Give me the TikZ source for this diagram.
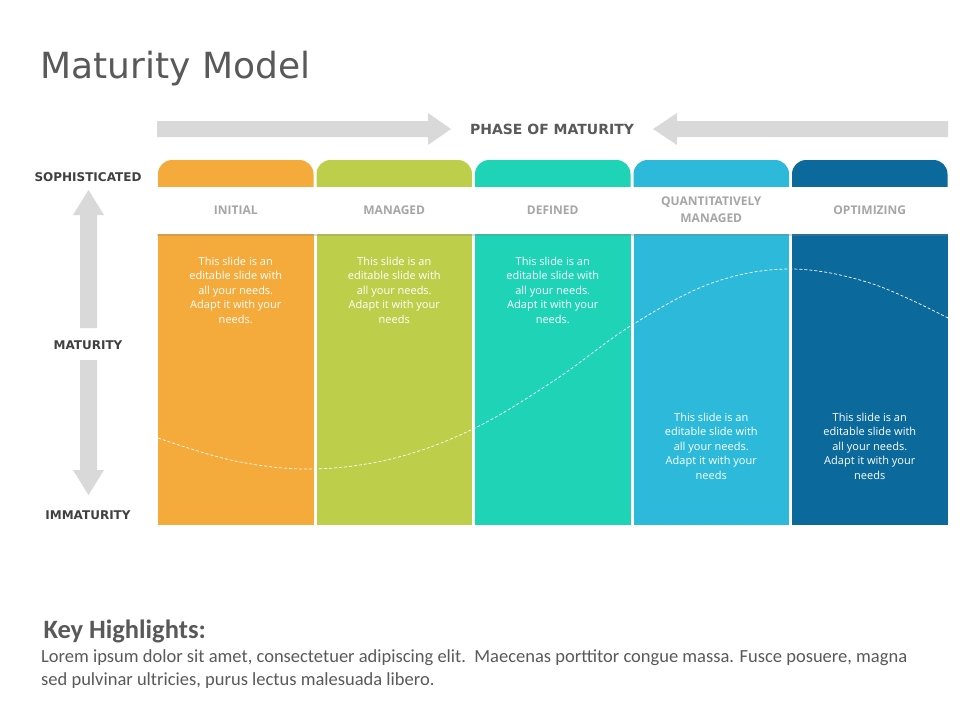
\documentclass[tikz,border=0pt]{standalone}
\usepackage{fontspec}
\setmainfont{DejaVu Sans}
\newfontfamily\opensans{Open Sans}
\newfontfamily\carlito{Carlito}
\usetikzlibrary{shadows}
\definecolor{txtgray}{HTML}{595959}
\definecolor{axgray}{HTML}{404040}
\definecolor{lblgray}{HTML}{A6A6A6}
\definecolor{arrgray}{HTML}{D9D9D9}
\definecolor{colA}{HTML}{F5AB3C}
\definecolor{colB}{HTML}{BDCF4A}
\definecolor{colC}{HTML}{1FD3B6}
\definecolor{colD}{HTML}{2DBADA}
\definecolor{colE}{HTML}{0B6A9B}

\begin{document}
\begin{tikzpicture}[x=1pt,y=-1pt,
  axis/.style={font=\bfseries\fontsize{12}{14}\selectfont,text=axgray},
  phase/.style={font=\opensans\bfseries\fontsize{12}{17}\selectfont,text=lblgray,align=center},
  blurb/.style={font=\opensans\fontsize{11}{14.5}\selectfont,text=white,align=center},
  bar/.style={fill=arrgray}]
  \useasboundingbox[fill=white] (0,0) rectangle (960,720);

  \node[anchor=base west,font=\fontsize{36}{40}\selectfont,text=txtgray] (title) at (37,78) {Maturity Model};

  % phase arrows
  \fill[bar] (157,121) -- (428,121) -- (428,113) -- (451,129) -- (428,145) -- (428,137) -- (157,137) -- cycle;
  \fill[bar] (948,121) -- (677,121) -- (677,113) -- (653,129) -- (677,145) -- (677,137) -- (948,137) -- cycle;
  \node[font=\bfseries\fontsize{14}{16}\selectfont,text=txtgray] (phase) at (552,129) {PHASE OF MATURITY};

  % maturity axis
  \fill[bar] (80,328) -- (80,215) -- (73,215) -- (88.5,190) -- (104,215) -- (97,215) -- (97,328) -- cycle;
  \fill[bar] (80,360) -- (80,470) -- (73,470) -- (88.5,495) -- (104,470) -- (97,470) -- (97,360) -- cycle;
  \node[axis] (soph) at (88,177) {SOPHISTICATED};
  \node[axis] (mat) at (88,345) {MATURITY};
  \node[axis] (immat) at (88,515) {IMMATURITY};

  % columns
  \foreach \i/\c in {0/colA,1/colB,2/colC,3/colD,4/colE} {
    \fill[\c,rounded corners=14] (158+158.5*\i,160) rectangle ++(155.5,60);
    \fill[\c] (158+158.5*\i,190) rectangle ++(155.5,335);
  }

  % curve
  \draw[white,dash pattern=on 3pt off 2pt,line width=0.7pt] plot[smooth,tension=0.6] coordinates
    {(158,438) (235,461) (313,469) (395,458) (475,428) (555,380) (632,325) (712,283) (790,269) (870,283) (948,318)};

  % header band
  \fill[white,drop shadow={opacity=0.3,shadow xshift=0pt,shadow yshift=-2pt}] (157,187) rectangle (948,234);
  \foreach \i/\lbl in {0/INITIAL,1/MANAGED,2/DEFINED,3/{QUANTITATIVELY\\MANAGED},4/OPTIMIZING}
    \node[phase] (lbl\i) at (235.75+158.5*\i,210) {\lbl};

  % column notes
  \foreach \i/\ty/\fin in {0/290/needs.,1/290/needs,2/290/needs.,3/446/needs,4/446/needs}
    \node[blurb] (note\i) at (235.75+158.5*\i,\ty)
      {This slide is an\\editable slide with\\all your needs.\\Adapt it with your\\\fin};

  \node[anchor=base west,font=\carlito\bfseries\fontsize{26.5}{30}\selectfont,text=txtgray] (keyhead) at (40,638) {Key Highlights:};
  \node[anchor=north west,align=left,inner sep=0pt,font=\carlito\fontsize{18.5}{23}\selectfont,text=txtgray] (keybody) at (41,649)
    {Lorem ipsum dolor sit amet, consectetuer adipiscing elit.\ \ Maecenas porttitor congue massa. Fusce posuere, magna\\
     sed pulvinar ultricies, purus lectus malesuada libero.};
\end{tikzpicture}
\end{document}
